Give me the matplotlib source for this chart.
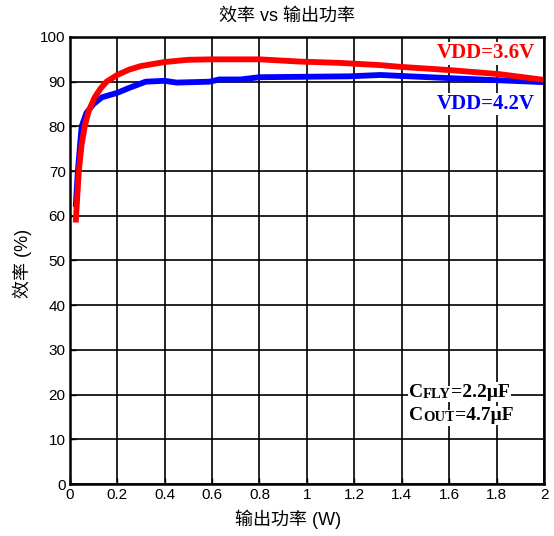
import matplotlib.pyplot as plt

plt.rcParams['font.family'] = ['Liberation Sans', 'Noto Sans CJK SC', 'DejaVu Sans']

# efficiency curves
x_36 = [0.025, 0.03, 0.038, 0.05, 0.063, 0.08, 0.105, 0.13, 0.155, 0.2, 0.25, 0.3, 0.4, 0.5, 0.6, 0.7, 0.8, 0.97, 1.14, 1.31, 1.4, 1.6, 1.81, 2.0]
eff_36 = [58.5, 63, 70, 76, 80, 83.5, 86.5, 88.5, 90, 91.5, 92.7, 93.5, 94.4, 94.9, 95.0, 95.0, 95.0, 94.5, 94.2, 93.7, 93.3, 92.6, 91.7, 90.4]

x_42 = [0.025, 0.034, 0.05, 0.07, 0.1, 0.135, 0.2, 0.25, 0.32, 0.4, 0.45, 0.59, 0.63, 0.72, 0.8, 1.18, 1.31, 1.39, 1.6, 1.77, 2.0]
eff_42 = [62, 70, 80, 83, 85, 86.5, 87.5, 88.6, 90, 90.2, 89.8, 90.0, 90.5, 90.5, 91.0, 91.2, 91.5, 91.3, 90.8, 90.4, 89.9]

x_ticks = [0, 0.2, 0.4, 0.6, 0.8, 1, 1.2, 1.4, 1.6, 1.8, 2]
x_labels = ['0', '0.2', '0.4', '0.6', '0.8', '1', '1.2', '1.4', '1.6', '1.8', '2']
y_ticks = list(range(0, 101, 10))

fig = plt.figure(figsize=(5.54, 5.36), dpi=100)
ax = fig.add_axes([0.126, 0.097, 0.856, 0.834])

ax.plot(x_42, eff_42, color='#0000ff', linewidth=4.2, solid_capstyle='butt', zorder=3)
ax.plot(x_36, eff_36, color='#ff0000', linewidth=4.2, solid_capstyle='butt', zorder=4)

ax.set_xlim(0, 2)
ax.set_ylim(0, 100)
ax.set_xticks(x_ticks)
ax.set_xticklabels(x_labels)
ax.set_yticks(y_ticks)
ax.grid(True, color='black', linewidth=1.2)
ax.set_axisbelow(True)
ax.tick_params(direction='in', length=4, width=1, labelsize=11, pad=3)
for s in ax.spines.values():
    s.set_linewidth(1.8)
    s.set_zorder(6)

# title and x label sit a little left of the axes centre in the original
fig.text(287 / 554, 1 - 16 / 536, '效率 vs 输出功率', fontsize=13, ha='center', va='center')
fig.text(288 / 554, 1 - 519 / 536, '输出功率 (W)', fontsize=13, ha='center', va='center')
fig.text(22 / 554, 1 - 263 / 536, '效率 (%)', fontsize=13, ha='center', va='center', rotation=90)

white = dict(facecolor='white', edgecolor='none', pad=1)

# series labels
ax.text(1.962, 96.4, 'VDD=3.6V', color='#ff0000', fontsize=15, fontweight='bold',
        family='Liberation Serif', ha='right', va='center', zorder=5, bbox=white)
ax.text(1.962, 85.0, 'VDD=4.2V', color='#0000ff', fontsize=15, fontweight='bold',
        family='Liberation Serif', ha='right', va='center', zorder=5, bbox=white)

# capacitor notes, small caps for the subscripts
def small_caps(x, y, big, small, rest):
    t = ax.text(x, y, big, fontsize=14, fontweight='bold', family='Liberation Serif',
                ha='left', va='baseline', zorder=5, bbox=white)
    t2 = ax.annotate(small, xy=(1, 0), xycoords=t, fontsize=10.5, fontweight='bold',
                     family='Liberation Serif', ha='left', va='bottom', zorder=5, bbox=white)
    ax.annotate(rest, xy=(1, 0), xycoords=t2, fontsize=14, fontweight='bold',
                family='Liberation Serif', ha='left', va='bottom', zorder=5, bbox=white)

small_caps(1.43, 19.5, 'C', 'FLY', '=2.2μF')
small_caps(1.43, 14.3, 'C', 'OUT', '=4.7μF')

fig.savefig('out.png', dpi=100)
